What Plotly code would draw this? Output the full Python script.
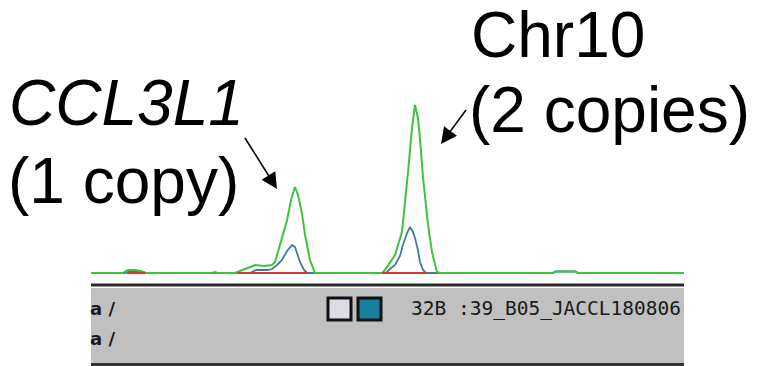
import plotly.graph_objects as go

W, H = 760, 366

# ---- data (size units on x, signal units on y) ----
green_x = [0, 16, 18.7, 22.3, 25.3, 27.8, 61.2, 62.7, 64.2, 72.8, 77.9, 83.0, 87.5, 91.6,
           93.1, 94.6, 96.6, 99.2, 101.2, 103.2, 104.7, 106.7, 108.3, 110.8, 113.3,
           147.2, 148.7, 153.8, 157.3, 158.9, 160.4, 162.4, 163.9, 165.4, 166.4, 168.0,
           170.5, 172.5, 175.0, 176.6, 233.7, 235.2, 244.9, 246.4, 300]
green_y = [0, 0, 30, 30, 20, 0, 0, 10, 0, 0, 40, 80, 70, 80,
           110, 210, 330, 530, 730, 860, 780, 600, 380, 130, 0,
           0, 30, 180, 410, 710, 1010, 1450, 1680, 1550, 1350, 950,
           480, 210, 10, 0, 0, 15, 15, 0, 0]

blue_x = [0, 17.2, 19.7, 24.8, 27.3, 80.4, 83.5, 89.5, 91.6, 94.1, 96.6, 99.2, 101.7,
          103.2, 105.7, 107.8, 109.3, 149.2, 151.3, 153.8, 156.3, 157.8, 159.9, 161.4,
          162.9, 163.9, 165.4, 166.4, 168.0, 169.5, 233.7, 235.2, 244.9, 246.4, 300]
blue_y = [0, 0, 15, 15, 0, 0, 30, 30, 40, 80, 130, 220, 280,
          260, 110, 30, 0, 0, 40, 80, 170, 280, 400, 460,
          410, 350, 230, 110, 30, 0, 0, 15, 15, 0, 0]

red_x = [18.2, 27.3, None, 74.4, 109.3, None, 147.2, 170.0]
red_y = [0, 0, None, 0, 0, None, 0, 0]

label1_lines = ["CCL3L1", "(1 copy)"]
label2_lines = ["Chr10", "(2 copies)"]
sample_name = "32B :39_B05_JACCL180806"
dye_label = "a /"

X_RANGE = [0, 300]
Y_RANGE = [-140, 2730]

fig = go.Figure()
fig.add_trace(go.Scatter(x=blue_x, y=blue_y, mode="lines",
                         line=dict(color="#3f7c9c", width=1.8), hoverinfo="skip"))
fig.add_trace(go.Scatter(x=green_x, y=green_y, mode="lines",
                         line=dict(color="#3cc43c", width=2), hoverinfo="skip"))
fig.add_trace(go.Scatter(x=red_x, y=red_y, mode="lines",
                         line=dict(color="#d23a3a", width=2.2), hoverinfo="skip"))


def px(p):
    return p / W


def py(p):
    return 1 - p / H


shapes = [
    dict(type="rect", xref="paper", yref="paper", x0=px(91), x1=px(684),
         y0=py(286.5), y1=py(283.5), fillcolor="#2a2a2a", line_width=0, layer="above"),
    dict(type="rect", xref="paper", yref="paper", x0=px(91), x1=px(684),
         y0=py(363), y1=py(288), fillcolor="#c0c0c0", line_width=0),
    dict(type="rect", xref="paper", yref="paper", x0=px(91), x1=px(684),
         y0=py(366), y1=py(363), fillcolor="#333333", line_width=0),
    dict(type="rect", xref="paper", yref="paper", x0=px(328), x1=px(351),
         y0=py(320), y1=py(298), fillcolor="#dcdce6", line=dict(color="#111111", width=3)),
    dict(type="rect", xref="paper", yref="paper", x0=px(358), x1=px(381),
         y0=py(320), y1=py(298), fillcolor="#17809a", line=dict(color="#111111", width=3)),
]

big_font = dict(family="Liberation Sans, Arial", size=64, color="black")
panel_font = dict(family="DejaVu Sans", size=18, color="#1a1a1a", weight="bold")
annotations = [
    dict(text=label1_lines[0], x=px(9), y=py(103), xanchor="left", yanchor="middle",
         font=dict(big_font, style="italic")),
    dict(text=label1_lines[1], x=px(8), y=py(181), xanchor="left", yanchor="middle",
         font=big_font),
    dict(text=label2_lines[0], x=px(471), y=py(35), xanchor="left", yanchor="middle",
         font=big_font),
    dict(text=label2_lines[1], x=px(469), y=py(110), xanchor="left", yanchor="middle",
         font=big_font),
    dict(text="", x=px(277), y=py(189), ax=-32, ay=-51, showarrow=True,
         arrowhead=2, arrowwidth=1.6, arrowsize=2.0, arrowcolor="black", standoff=0),
    dict(text="", x=px(441), y=py(144), ax=25, ay=-34, showarrow=True,
         arrowhead=2, arrowwidth=1.6, arrowsize=2.0, arrowcolor="black", standoff=0),
    dict(text=dye_label, x=px(90), y=py(308), xanchor="left", yanchor="middle",
         font=panel_font),
    dict(text=dye_label, x=px(90), y=py(338), xanchor="left", yanchor="middle",
         font=panel_font),
    dict(text=sample_name, x=px(411), y=py(308), xanchor="left", yanchor="middle",
         font=dict(family="DejaVu Sans Mono", size=19.5, color="#1a1a1a")),
]
for a in annotations:
    a.setdefault("xref", "paper")
    a.setdefault("yref", "paper")
    a.setdefault("showarrow", False)
    a["borderpad"] = 0
    a["borderwidth"] = 0

fig.update_layout(
    width=W, height=H,
    margin=dict(l=0, r=0, t=0, b=0),
    paper_bgcolor="white", plot_bgcolor="white",
    showlegend=False,
    xaxis=dict(range=X_RANGE, domain=[91 / W, 684 / W], visible=False, fixedrange=True),
    yaxis=dict(range=Y_RANGE, domain=[1 - 287 / H, 1], visible=False, fixedrange=True),
    shapes=shapes,
    annotations=annotations,
)

fig.write_html("out.html", config={"displayModeBar": False})
